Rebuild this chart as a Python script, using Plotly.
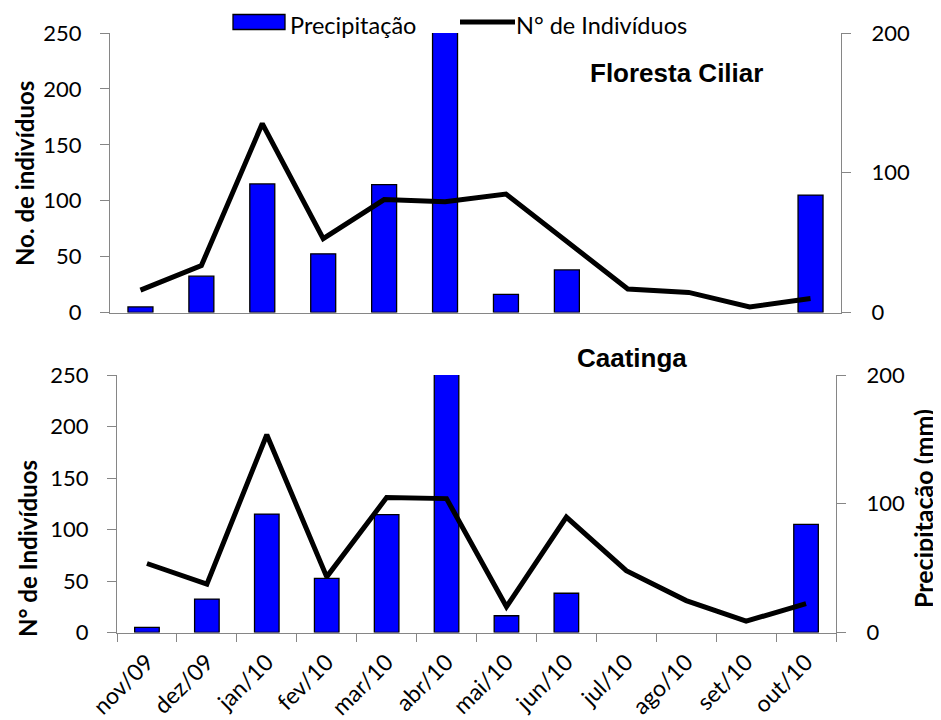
import plotly.graph_objects as go

months = ["nov/09", "dez/09", "jan/10", "fev/10", "mar/10", "abr/10",
          "mai/10", "jun/10", "jul/10", "ago/10", "set/10", "out/10"]
precip_mm = [4, 26, 92, 42, 91.5, 250, 13, 30.5, 0, 0, 0, 84]
ind_floresta = [20, 42, 169, 66, 101, 99, 106, 64, 21, 18, 5, 12.5]
ind_caatinga = [67, 47, 192, 54, 131, 130, 25, 112, 60, 31, 11, 28]

# page body has an 8px margin; work in screen pixels and convert
OFF = 8
W, H = 941 - OFF, 720 - OFF


def fx(x):
    return (x - OFF) / W


def fy(y):
    return 1 - (y - OFF) / H


AX = "#868686"
SANS = "Lato, Carlito, sans-serif"
YTICKF = dict(family=SANS, size=22, color="black")
XTICKF = dict(family=SANS, size=23, color="black")
ARIAL = "Liberation Sans, Arial, sans-serif"
bar_line_w = [1.3 if v > 0 else 0 for v in precip_mm]

fig = go.Figure()

# bars on base axes (right side), lines on overlaying axes (left side) so lines sit on top
fig.add_trace(go.Bar(x=months, y=precip_mm, xaxis="x", yaxis="y", name="Precipitação",
                     marker=dict(color="#0000FF", line=dict(color="black", width=bar_line_w)),
                     width=0.41, showlegend=False))
fig.add_trace(go.Scatter(x=months, y=ind_floresta, xaxis="x", yaxis="y2", name="N° de Indivíduos",
                         mode="lines", line=dict(color="black", width=5), showlegend=False))
fig.add_trace(go.Bar(x=months, y=precip_mm, xaxis="x2", yaxis="y3", name="Precipitação",
                     marker=dict(color="#0000FF", line=dict(color="black", width=bar_line_w)),
                     width=0.41, showlegend=False))
fig.add_trace(go.Scatter(x=months, y=ind_caatinga, xaxis="x2", yaxis="y4", name="N° de Indivíduos",
                         mode="lines", line=dict(color="black", width=5), showlegend=False))

top = [fy(312.5), fy(33)]
bot = [fy(632.5), fy(375)]

common_y = dict(showgrid=False, zeroline=False, showline=True, linecolor=AX, linewidth=1.3,
                ticks="outside", tickcolor=AX, ticklen=9, tickwidth=1.3, tickfont=YTICKF,
                automargin=False)
right_y = dict(range=[0, 200], tickvals=[0, 100, 200], side="right", ticklabelstandoff=16, **common_y)
left_y = dict(range=[0, 250], tickvals=[0, 50, 100, 150, 200, 250], side="left",
              ticklabelstandoff=14, **common_y)

legend_shapes = [
    dict(type="rect", xref="paper", yref="paper", x0=fx(233), x1=fx(285), y0=fy(29.5), y1=fy(14.5),
         fillcolor="#0000FF", line=dict(color="black", width=1.3)),
    dict(type="line", xref="paper", yref="paper", x0=fx(460), x1=fx(515), y0=fy(22), y1=fy(22),
         line=dict(color="black", width=5)),
]


def ann(text, x, y, size, family=SANS, angle=0, xanchor="center"):
    return dict(text=text, x=fx(x), y=fy(y), xref="paper", yref="paper", textangle=angle,
                xanchor=xanchor, yanchor="middle", showarrow=False,
                font=dict(family=family, size=size, color="black"))


fig.update_layout(
    width=W, height=H,
    margin=dict(l=0, r=0, t=0, b=0),
    paper_bgcolor="white", plot_bgcolor="white",
    showlegend=False,
    xaxis=dict(domain=[fx(110), fx(841)], anchor="y", type="category", showgrid=False,
               showline=True, linecolor=AX, linewidth=1.3, ticks="", showticklabels=False,
               automargin=False),
    xaxis2=dict(domain=[fx(117), fx(836)], anchor="y3", type="category", showgrid=False,
                showline=True, linecolor=AX, linewidth=1.3, ticks="outside", tickson="boundaries",
                ticklen=8, tickcolor=AX, tickwidth=1.3, tickangle=-45, tickfont=XTICKF,
                ticklabelstandoff=6, automargin=False),
    yaxis=dict(domain=top, anchor="x", **right_y),
    yaxis2=dict(domain=top, anchor="x", overlaying="y", **left_y),
    yaxis3=dict(domain=bot, anchor="x2", **right_y),
    yaxis4=dict(domain=bot, anchor="x2", overlaying="y3", **left_y),
    shapes=legend_shapes,
    annotations=[
        ann("Precipitação", 288, 24.5, 23.5, xanchor="left"),
        ann("N° de Indivíduos", 514, 24.5, 23.5, xanchor="left"),
        ann("<b>No. de indivíduos</b>", 25, 174, 24, angle=-90),
        ann("<b>N° de Indivíduos</b>", 27, 549, 24, angle=-90),
        ann("<b>Precipitação (mm)</b>", 923, 509, 25, angle=-90),
        ann("<b>Floresta Ciliar</b>", 676, 73, 26, family=ARIAL),
        ann("<b>Caatinga</b>", 632, 358, 26, family=ARIAL),
    ],
)

fig.write_html("out.html")
